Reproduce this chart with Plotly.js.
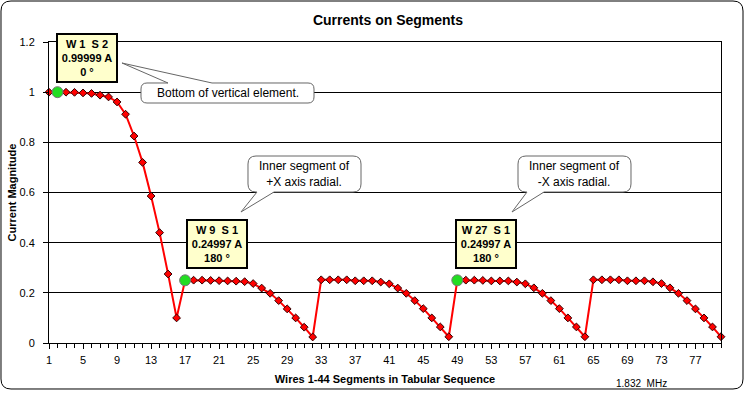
<!DOCTYPE html>
<html>
<head>
<meta charset="utf-8">
<script src="https://cdn.plot.ly/plotly-3.0.1.min.js"></script>
<style>html,body{margin:0;padding:0;background:#fff;}#chart{width:745px;height:395px;}</style>
</head>
<body>
<div id="chart"></div>
<script>
// ---- data (current magnitude, A) ----
const verticalElement = [1.0, 0.99999, 0.9998, 0.9993, 0.997, 0.995, 0.988, 0.981, 0.961, 0.912, 0.825, 0.72, 0.586, 0.44, 0.275, 0.1];
const radialPlusX  = [0.24997, 0.2505, 0.2505, 0.2495, 0.2485, 0.2475, 0.2465, 0.2445, 0.237, 0.219, 0.198, 0.169, 0.136, 0.100, 0.063, 0.024];
const radialB      = [0.252, 0.252, 0.252, 0.252, 0.248, 0.248, 0.248, 0.243, 0.236, 0.219, 0.198, 0.169, 0.137, 0.100, 0.064, 0.025];
const radialMinusX = [0.24997, 0.2505, 0.2505, 0.2495, 0.2475, 0.2475, 0.2475, 0.243, 0.236, 0.220, 0.198, 0.169, 0.137, 0.100, 0.064, 0.025];
const radialD      = [0.252, 0.252, 0.252, 0.252, 0.248, 0.248, 0.248, 0.244, 0.237, 0.220, 0.198, 0.169, 0.136, 0.100, 0.064, 0.025];
const currents = [].concat(verticalElement, radialPlusX, radialB, radialMinusX, radialD);
const segments = currents.map((_, i) => i + 1);

const highlightSegments = [2, 17, 49];
const highlightLabels = [
  "W 1  S 2<br>0.99999 A<br>0 °",
  "W 9  S 1<br>0.24997 A<br>180 °",
  "W 27  S 1<br>0.24997 A<br>180 °"
];
const calloutTexts = [
  "Bottom of vertical element.",
  "Inner segment of<br>+X axis radial.",
  "Inner segment of<br>-X axis radial."
];
const xTickLabels = [1, 5, 9, 13, 17, 21, 25, 29, 33, 37, 41, 45, 49, 53, 57, 61, 65, 69, 73, 77];
const yTickValues = [0, 0.2, 0.4, 0.6, 0.8, 1, 1.2];

// ---- layout helpers (pixel -> paper) ----
const W = 745, H = 395;
const M = {l: 49, r: 24, t: 42, b: 52};
const PW = W - M.l - M.r, PH = H - M.t - M.b;
const fx = px => (px - M.l) / PW;
const fy = py => (H - M.b - py) / PH;
const P = (x, y) => fx(x).toFixed(5) + "," + fy(y).toFixed(5);

function roundRect(x0, y0, x1, y1, r) {
  return "M" + P(x0 + r, y0) + " L" + P(x1 - r, y0) + " Q" + P(x1, y0) + " " + P(x1, y0 + r) +
    " L" + P(x1, y1 - r) + " Q" + P(x1, y1) + " " + P(x1 - r, y1) +
    " L" + P(x0 + r, y1) + " Q" + P(x0, y1) + " " + P(x0, y1 - r) +
    " L" + P(x0, y0 + r) + " Q" + P(x0, y0) + " " + P(x0 + r, y0) + " Z";
}
// bubble with tail on top edge or bottom edge
function bubble(x0, y0, x1, y1, r, edge, b1, b2, tx, ty) {
  let s = "M" + P(x0 + r, y0);
  if (edge === "top") s += " L" + P(b1, y0) + " L" + P(tx, ty) + " L" + P(b2, y0);
  s += " L" + P(x1 - r, y0) + " Q" + P(x1, y0) + " " + P(x1, y0 + r) +
       " L" + P(x1, y1 - r) + " Q" + P(x1, y1) + " " + P(x1 - r, y1);
  if (edge === "bottom") s += " L" + P(b2, y1) + " L" + P(tx, ty) + " L" + P(b1, y1);
  s += " L" + P(x0 + r, y1) + " Q" + P(x0, y1) + " " + P(x0, y1 - r) +
       " L" + P(x0, y0 + r) + " Q" + P(x0, y0) + " " + P(x0 + r, y0) + " Z";
  return s;
}

const FONT = "Liberation Sans, Arial, sans-serif";

const traces = [
  {
    x: segments, y: currents, type: "scatter", mode: "lines+markers",
    line: {color: "#FF0000", width: 2},
    marker: {symbol: "diamond", size: 6, color: "#FF0000", line: {color: "#300000", width: 1}},
    cliponaxis: false, hoverinfo: "x+y", showlegend: false
  },
  {
    x: highlightSegments, y: highlightSegments.map(s => currents[s - 1]),
    type: "scatter", mode: "markers",
    marker: {symbol: "circle", size: 11, color: "#22DD22", line: {color: "#777777", width: 1}},
    cliponaxis: false, showlegend: false
  }
];

const shapes = [
  {type: "path", xref: "paper", yref: "paper", path: roundRect(1, 1, 743, 389, 10),
   line: {color: "#000", width: 1}, fillcolor: "rgba(0,0,0,0)", layer: "below"},
  {type: "path", xref: "paper", yref: "paper", path: bubble(141, 83, 314, 103, 6, "top", 168, 212, 122, 63),
   line: {color: "#666", width: 1}, fillcolor: "#FFFFFF", layer: "above"},
  {type: "path", xref: "paper", yref: "paper", path: bubble(248, 156, 361, 192, 8, "bottom", 257, 274, 241, 212),
   line: {color: "#666", width: 1}, fillcolor: "#FFFFFF", layer: "above"},
  {type: "path", xref: "paper", yref: "paper", path: bubble(518, 156, 631, 192, 8, "bottom", 527, 544, 512, 212),
   line: {color: "#666", width: 1}, fillcolor: "#FFFFFF", layer: "above"}
];

const boxPos = [[56, 33], [186, 219], [455, 219]];
const calloutPos = [[227.5, 93], [304.5, 174], [574.5, 174]];

const annotations = [];
highlightLabels.forEach((t, i) => {
  annotations.push({
    xref: "paper", yref: "paper", x: fx(boxPos[i][0]), y: fy(boxPos[i][1]),
    xanchor: "left", yanchor: "top", showarrow: false, text: "<b>" + t + "</b>",
    font: {family: FONT, size: 11, color: "#000"}, align: "center", valign: "middle",
    bgcolor: "#FFFFCC", bordercolor: "#000", borderwidth: 2, borderpad: 0,
    width: 58, height: 46
  });
});
calloutTexts.forEach((t, i) => {
  annotations.push({
    xref: "paper", yref: "paper", x: fx(calloutPos[i][0]), y: fy(calloutPos[i][1]),
    xanchor: "center", yanchor: "middle", showarrow: false, text: t,
    font: {family: FONT, size: 12, color: "#000"}, align: "center"
  });
});
annotations.push({
  xref: "paper", yref: "paper", x: fx(641), y: fy(383), xanchor: "center", yanchor: "middle",
  showarrow: false, text: "1.832  MHz", font: {family: FONT, size: 10, color: "#000"}
});

const layout = {
  width: W, height: H,
  margin: M,
  paper_bgcolor: "#FFFFFF", plot_bgcolor: "#FFFFFF",
  font: {family: FONT, size: 11, color: "#000"},
  title: {text: "<b>Currents on Segments</b>", font: {family: FONT, size: 14, color: "#000"},
          x: fx(388), xref: "paper", xanchor: "center", y: 1 - 20 / H, yanchor: "middle"},
  xaxis: {
    range: [1, 80], tickmode: "array", tickvals: xTickLabels, ticktext: xTickLabels.map(String),
    ticks: "outside", ticklen: 5, tickcolor: "#000", tickwidth: 1,
    minor: {tickmode: "linear", tick0: 1, dtick: 1, ticks: "outside", ticklen: 4, tickcolor: "#000", showgrid: false},
    showline: true, linecolor: "#000", linewidth: 1, mirror: true, showgrid: false, zeroline: false,
    tickfont: {family: FONT, size: 11, color: "#000"}, ticklabelstandoff: 2,
    title: {text: "<b>Wires 1-44 Segments in Tabular Sequence</b>", font: {family: FONT, size: 11, color: "#000"}, standoff: 10}
  },
  yaxis: {
    range: [0, 1.2], tickmode: "array", tickvals: yTickValues, ticktext: yTickValues.map(String),
    ticks: "outside", ticklen: 5, tickcolor: "#000",
    showline: true, linecolor: "#000", linewidth: 1, mirror: true,
    showgrid: true, gridcolor: "#000", gridwidth: 1, zeroline: false,
    tickfont: {family: FONT, size: 11, color: "#000"}, ticklabelstandoff: 6,
    title: {text: "<b>Current Magnitude</b>", font: {family: FONT, size: 11, color: "#000"}, standoff: 0}
  },
  shapes: shapes,
  annotations: annotations,
  showlegend: false
};

Plotly.newPlot("chart", traces, layout, {displayModeBar: false, staticPlot: true});
</script>
</body>
</html>
